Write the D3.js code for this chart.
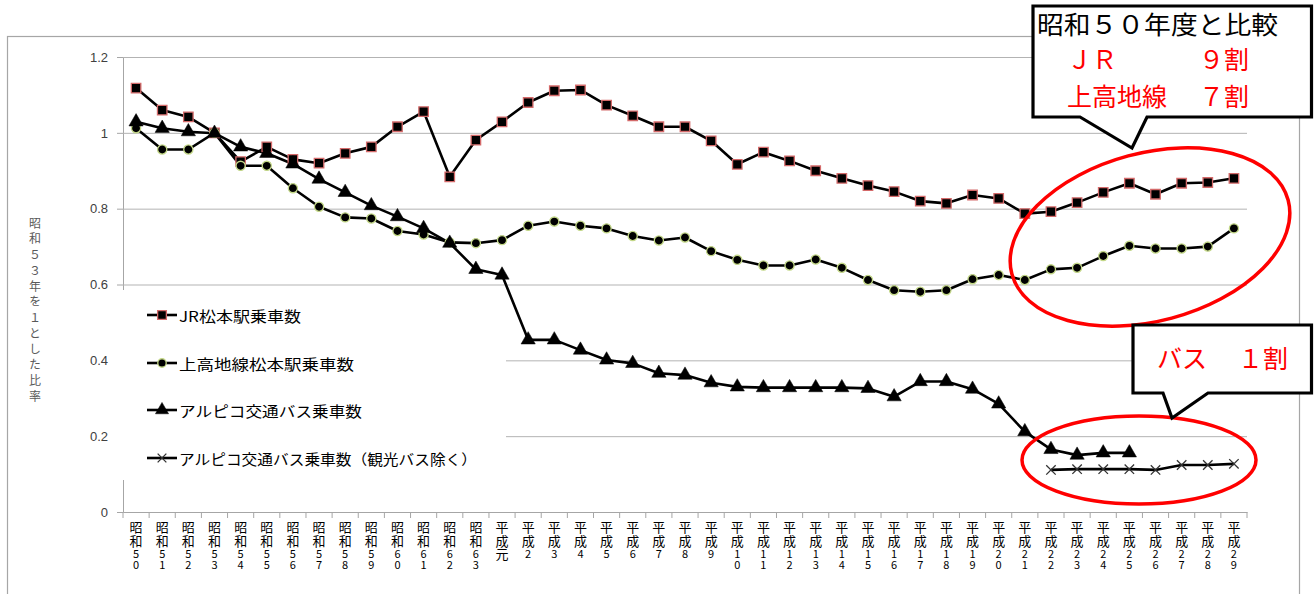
<!DOCTYPE html>
<html><head><meta charset="utf-8">
<script src="https://cdn.jsdelivr.net/npm/d3@7"></script>
<style>
html,body{margin:0;padding:0;background:#fff;}
svg{display:block;}
text{font-family:"Noto Sans CJK JP","Noto Sans",sans-serif;}
.vert{writing-mode:vertical-rl;text-orientation:upright;}
</style></head>
<body>
<svg id="chart" width="1314" height="594"></svg>
<script>
// ---- data ----
const categories = ["昭和50","昭和51","昭和52","昭和53","昭和54","昭和55","昭和56","昭和57","昭和58","昭和59","昭和60","昭和61","昭和62","昭和63","平成元","平成2","平成3","平成4","平成5","平成6","平成7","平成8","平成9","平成10","平成11","平成12","平成13","平成14","平成15","平成16","平成17","平成18","平成19","平成20","平成21","平成22","平成23","平成24","平成25","平成26","平成27","平成28","平成29"];
const jrValues = [1.118,1.060,1.042,1.000,0.924,0.963,0.930,0.920,0.946,0.963,1.016,1.056,0.884,0.981,1.029,1.080,1.111,1.113,1.073,1.045,1.016,1.016,0.979,0.917,0.949,0.926,0.900,0.880,0.861,0.845,0.820,0.814,0.836,0.827,0.787,0.792,0.816,0.843,0.867,0.838,0.867,0.869,0.880];
const kamikochiValues = [1.012,0.956,0.956,1.000,0.913,0.913,0.854,0.805,0.777,0.774,0.741,0.732,0.711,0.709,0.717,0.755,0.766,0.755,0.748,0.728,0.716,0.724,0.688,0.665,0.650,0.650,0.666,0.644,0.612,0.585,0.581,0.585,0.614,0.625,0.612,0.640,0.644,0.675,0.702,0.695,0.695,0.700,0.748];
const busValues = [1.029,1.012,1.003,0.999,0.963,0.946,0.918,0.878,0.843,0.808,0.779,0.748,0.709,0.640,0.625,0.454,0.454,0.427,0.401,0.392,0.366,0.361,0.341,0.330,0.328,0.328,0.328,0.328,0.326,0.304,0.344,0.344,0.324,0.285,0.212,0.165,0.150,0.156,0.156,null,null,null,null];
const busExclValues = [null,null,null,null,null,null,null,null,null,null,null,null,null,null,null,null,null,null,null,null,null,null,null,null,null,null,null,null,null,null,null,null,null,null,null,0.111,0.113,0.113,0.113,0.111,0.124,0.124,0.127];
const seriesNames = ["JR松本駅乗車数","上高地線松本駅乗車数","アルピコ交通バス乗車数","アルピコ交通バス乗車数（観光バス除く）"];
const yTicks = [0,0.2,0.4,0.6,0.8,1.0,1.2];
const yTickLabels = ["0","0.2","0.4","0.6","0.8","1","1.2"];
const yTitle = "昭和５３年を１とした比率";
const callout1Title = "昭和５０年度と比較";
const callout1Rows = [["ＪＲ","９割"],["上高地線","７割"]];
const callout2Row = ["バス","１割"];

// ---- setup ----
const svg = d3.select("#chart");
const x = d3.scaleBand().domain(categories).range([123,1247]).padding(0);
const y = d3.scaleLinear().domain([0,1.2]).range([512,57]);

// outer chart border
svg.append("rect").attr("x",7.5).attr("y",36.5).attr("width",1292).attr("height",600)
  .attr("fill","#fff").attr("stroke","#a6a6a6").attr("stroke-width",1.2);

// gridlines + y axis
const yAxis = d3.axisLeft(y).tickValues(yTicks).tickSize(6)
  .tickFormat((d,i)=>yTickLabels[i]);
const gY = svg.append("g").attr("transform","translate(123,0)").call(yAxis);
gY.select(".domain").attr("stroke","#a6a6a6");
gY.selectAll(".tick line").attr("stroke","#a6a6a6");
gY.selectAll(".tick text").attr("x",-15).attr("fill","#404040")
  .style("font-family","'Liberation Sans',Arial,sans-serif").style("font-size","13px");
svg.append("g").selectAll("line").data(yTicks.filter(d=>d>0)).join("line")
  .attr("x1",123).attr("x2",1247).attr("y1",d=>y(d)+0.5).attr("y2",d=>y(d)+0.5)
  .attr("stroke","#b3b3b3").attr("stroke-width",1);

// x axis
const xAxis = d3.axisBottom(x).tickSize(0).tickFormat("");
const gX = svg.append("g").attr("transform","translate(0,512)").call(xAxis);
gX.select(".domain").attr("stroke","#a6a6a6");
const bounds = categories.map(c=>x(c)).concat([x(categories[categories.length-1])+x.bandwidth()]);
svg.append("g").selectAll("line").data(bounds).join("line")
  .attr("x1",d=>d).attr("x2",d=>d).attr("y1",512).attr("y2",518)
  .attr("stroke","#a6a6a6");
// stacked (one character per line) category labels
const lineTops = [520.5,534.5,548,559];
const xl = svg.append("g");
categories.forEach(c=>{
  const cx = x(c)+x.bandwidth()/2;
  Array.from(c).forEach((ch,k)=>{
    const isDigit = /[0-9]/.test(ch);
    xl.append("text").attr("class","vert").attr("x",cx).attr("y",lineTops[k])
      .attr("fill","#000").style("font-size",isDigit?"11px":"13px").text(ch);
  });
});

// y title (stacked)
Array.from(yTitle).forEach((ch,k)=>{
  svg.append("text").attr("class","vert").attr("x",35).attr("y",217+k*15.75)
    .attr("fill","#595959").style("font-size","12px").text(ch);
});

// legend background
svg.append("rect").attr("x",112).attr("y",290).attr("width",394).attr("height",190).attr("fill","#fff");

// series
const line = d3.line().defined(d=>d!=null).x((d,i)=>x(categories[i])+x.bandwidth()/2).y(d=>y(d));
const allSeries = [jrValues,kamikochiValues,busValues,busExclValues];
allSeries.forEach(vals=>{
  svg.append("path").datum(vals).attr("d",line).attr("fill","none")
    .attr("stroke","#000").attr("stroke-width",2.6).attr("stroke-linejoin","round");
});

const markerSpecs = [
  {type:d3.symbolSquare,size:90,fill:"#000",stroke:"#d46a6a",sw:1.3},
  {type:d3.symbolCircle,size:66,fill:"#000",stroke:"#c4d889",sw:1.3},
  {type:d3.symbolTriangle,size:88,fill:"#000",stroke:"#000",sw:0.5},
  {type:d3.symbolX,size:60,fill:"none",stroke:"#333",sw:1.3}
];
allSeries.forEach((vals,si)=>{
  const sp = markerSpecs[si];
  const pts = vals.map((v,i)=>({v,i})).filter(d=>d.v!=null);
  svg.append("g").selectAll("path").data(pts).join("path")
    .attr("transform",d=>`translate(${x(categories[d.i])+x.bandwidth()/2},${y(d.v)})`)
    .attr("d",d3.symbol().type(sp.type).size(sp.size))
    .attr("fill",sp.fill).attr("stroke",sp.stroke).attr("stroke-width",sp.sw);
});

// legend
const legYs = [315,363,410,458];
const legWidths = [122,175,183,298];
seriesNames.forEach((n,k)=>{
  const g = svg.append("g");
  g.append("line").attr("x1",147).attr("x2",177).attr("y1",legYs[k]).attr("y2",legYs[k])
    .attr("stroke","#000").attr("stroke-width",2.6);
  const sp = markerSpecs[k];
  g.append("path").attr("transform",`translate(162,${legYs[k]})`)
    .attr("d",d3.symbol().type(sp.type).size(sp.size*0.85))
    .attr("fill",sp.fill).attr("stroke",sp.stroke).attr("stroke-width",sp.sw);
  g.append("text").attr("x",179).attr("y",legYs[k]).attr("dominant-baseline","central")
    .attr("textLength",legWidths[k]).attr("lengthAdjust","spacingAndGlyphs")
    .style("font-size","14.5px").attr("fill","#000").text(n);
});

// red ellipses
svg.append("ellipse").attr("cx",1150).attr("cy",237).attr("rx",143).attr("ry",84)
  .attr("transform","rotate(-15,1150,237)")
  .attr("fill","none").attr("stroke","#ff0000").attr("stroke-width",3.5);
svg.append("ellipse").attr("cx",1139).attr("cy",460).attr("rx",117).attr("ry",44)
  .attr("fill","none").attr("stroke","#ff0000").attr("stroke-width",3.5);

// callouts
function callout(x0,y0,x1,y1,t0,tip,t1){
  const p = d3.path();
  p.moveTo(x0,y0); p.lineTo(x1,y0); p.lineTo(x1,y1); p.lineTo(t1,y1);
  p.lineTo(tip[0],tip[1]); p.lineTo(t0,y1); p.lineTo(x0,y1); p.closePath();
  svg.append("path").attr("d",p.toString()).attr("fill","#fff")
    .attr("stroke","#000").attr("stroke-width",3.2).attr("stroke-linejoin","miter");
}
callout(1033,6,1311.5,117,1080,[1132,148],1147);
callout(1133,325,1311.5,393,1163,[1172,418],1208);

svg.append("text").attr("x",1037).attr("y",23).attr("dominant-baseline","central")
  .attr("textLength",241).attr("lengthAdjust","spacingAndGlyphs")
  .style("font-size","25px").attr("fill","#000").text(callout1Title);
const rowYs = [58,95];
callout1Rows.forEach((r,k)=>{
  svg.append("text").attr("x",1067).attr("y",rowYs[k]).attr("dominant-baseline","central")
    .style("font-size","25px").attr("fill","#ff0000").text(r[0]);
  svg.append("text").attr("x",1249).attr("y",rowYs[k]).attr("dominant-baseline","central")
    .attr("text-anchor","end").style("font-size","25px").attr("fill","#ff0000").text(r[1]);
});
svg.append("text").attr("x",1157).attr("y",357).attr("dominant-baseline","central")
  .style("font-size","25px").attr("fill","#ff0000").text(callout2Row[0]);
svg.append("text").attr("x",1288).attr("y",357).attr("dominant-baseline","central")
  .attr("text-anchor","end").style("font-size","25px").attr("fill","#ff0000").text(callout2Row[1]);
</script>
</body></html>
